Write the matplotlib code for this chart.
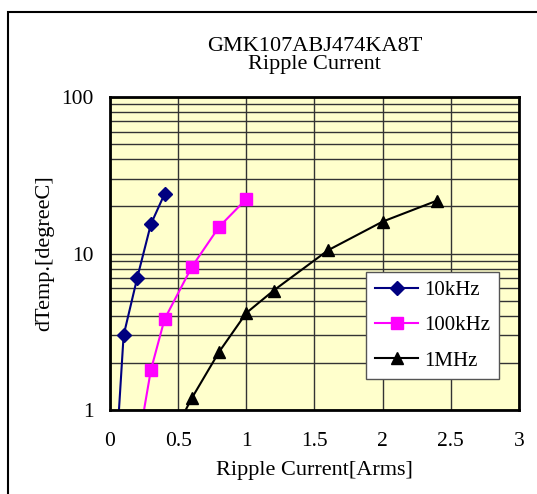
import numpy as np
import matplotlib.pyplot as plt
from matplotlib.patches import Rectangle

plt.rcParams['font.family'] = ['Liberation Serif', 'DejaVu Serif']

# ripple current [Arms] vs temperature rise [degC]
x_10k = [0.05, 0.1, 0.2, 0.3, 0.4]
y_10k = [0.6, 3.0, 7.0, 15.4, 24.0]
x_100k = [0.2, 0.3, 0.4, 0.6, 0.8, 1.0]
y_100k = [0.56, 1.8, 3.8, 8.2, 14.8, 22.3]
x_1m = [0.4, 0.6, 0.8, 1.0, 1.2, 1.6, 2.0, 2.4]
y_1m = [0.55, 1.19, 2.35, 4.17, 5.8, 10.5, 16.0, 21.8]

xticks = [0, 0.5, 1, 1.5, 2, 2.5, 3]
xtick_labels = ['0', '0.5', '1', '1.5', '2', '2.5', '3']
yticks = [1, 10, 100]
ytick_labels = ['1', '10', '100']

fig = plt.figure(figsize=(5.37, 4.94), dpi=100)
fig.patches.append(Rectangle((0.015, -0.1), 1.2, 1.076, transform=fig.transFigure,
                             fill=False, ec='black', lw=1.5))
ax = fig.add_axes([0.2048, 0.17, 0.7617, 0.6336])
ax.set_facecolor('#FFFFCC')

ax.plot(x_10k, y_10k, color='#000080', marker='D', ms=7, lw=1.5, label='10kHz')
ax.plot(x_100k, y_100k, color='#FF00FF', marker='s', ms=9, lw=1.5, label='100kHz')
ax.plot(x_1m, y_1m, color='black', marker='^', ms=8, lw=1.5, label='1MHz')

ax.set_yscale('log')
ax.set_xlim(0, 3)
ax.set_ylim(1, 100)
ax.set_xticks(xticks)
ax.set_xticklabels(xtick_labels)
ax.set_yticks(yticks)
ax.set_yticklabels(ytick_labels)
ax.tick_params(which='both', length=0, labelsize=15.5)
ax.tick_params(axis='x', pad=16)
ax.tick_params(axis='y', pad=12)
ax.grid(True, which='both', color='#333333', lw=1.0)
ax.set_axisbelow(True)
for s in ax.spines.values():
    s.set_linewidth(2)

ax.set_xlabel('Ripple Current[Arms]', fontsize=16, labelpad=7)
ax.set_ylabel('dTemp.[degreeC]', fontsize=16, labelpad=5)
ax.set_title('GMK107ABJ474KA8T\nRipple Current', fontsize=16, linespacing=0.95, pad=20)

leg = ax.legend(loc='lower right', bbox_to_anchor=(0.951, 0.099), borderaxespad=0,
                fontsize=15, fancybox=False, framealpha=1, edgecolor='#555555',
                borderpad=0.4, labelspacing=0.75, handlelength=2.1, handletextpad=0.3)
leg.get_frame().set_linewidth(1)

fig.savefig('out.png', dpi=100)
